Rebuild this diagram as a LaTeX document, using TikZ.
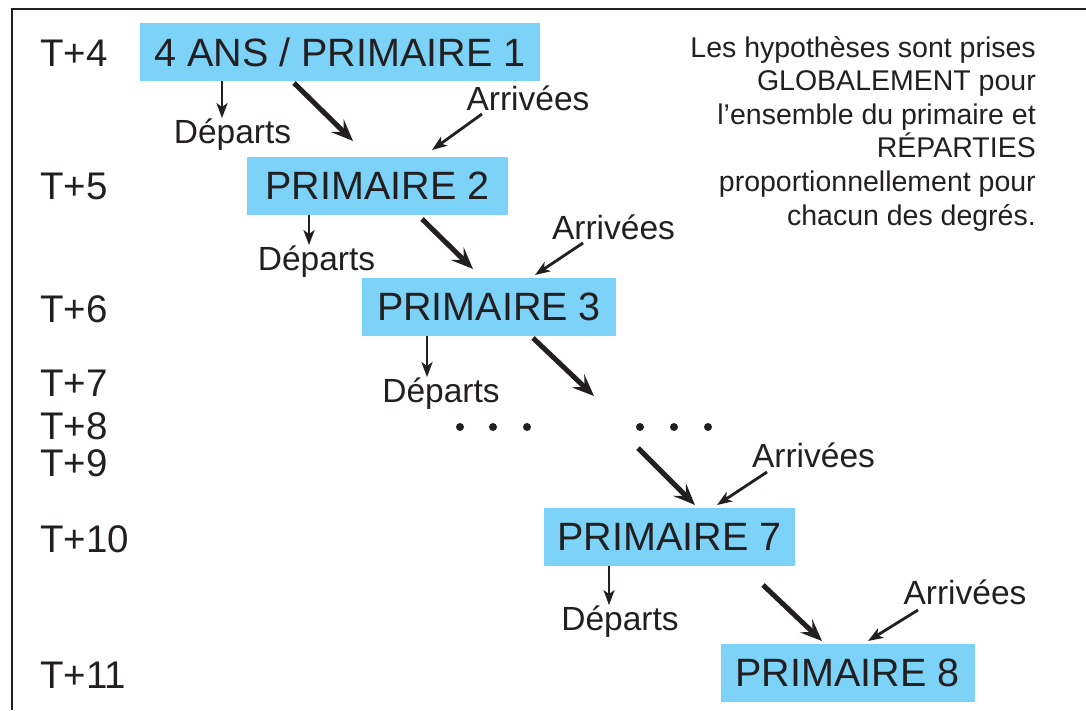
\documentclass[tikz,border=0pt]{standalone}
\usepackage{fontspec}
\setmainfont{Liberation Sans}
\usetikzlibrary{arrows.meta}

\definecolor{boxblue}{RGB}{124,211,247}
\definecolor{ink}{RGB}{35,31,32}

\begin{document}
\begin{tikzpicture}[x=1pt, y=-1pt, ink,
    level/.style={fill=boxblue, text=ink, inner sep=0pt, minimum width=254pt,
                  minimum height=58pt, font=\fontsize{39.5}{41}\selectfont},
    year/.style={anchor=base west, inner sep=0pt, font=\fontsize{38.5}{40}\selectfont},
    move/.style={anchor=base, inner sep=0pt, font=\fontsize{33.5}{35}\selectfont},
    flow/.style={line width=5pt, -{Stealth[length=22pt, width=18pt, inset=9pt]}},
    side/.style={line width=2.8pt, -{Stealth[length=15pt, width=11pt, inset=4pt]}}]
    \useasboundingbox (0,0) rectangle (1086,710);

    % Frame
    \draw [line width=2.5pt] (12,710) -- (12,9) -- (1086,9);

    % Years {T+4, ..., T+11}
    \node [year] (t4)  at (40,66)  {T+4};
    \node [year] (t5)  at (40,199) {T+5};
    \node [year] (t6)  at (40,322) {T+6};
    \node [year] (t7)  at (40,396) {T+7};
    \node [year] (t8)  at (40,439) {T+8};
    \node [year] (t9)  at (40,476) {T+9};
    \node [year] (t10) at (40,552) {T+10};
    \node [year] (t11) at (40,688) {T+11};

    % Levels
    \node [level, minimum width=400pt] (p1) at (340,52)    {4 ANS / PRIMAIRE 1};
    \node [level, minimum width=261pt] (p2) at (377.5,186) {PRIMAIRE 2};
    \node [level]                      (p3) at (489,307)   {PRIMAIRE 3};
    \node [level, minimum width=251pt] (p7) at (669.5,537) {PRIMAIRE 7};
    \node [level]                      (p8) at (847.5,673) {PRIMAIRE 8};

    % Departures and arrivals
    \node [move] (d1) at (232.5,143) {Départs};
    \node [move] (d2) at (316.5,270) {Départs};
    \node [move] (d3) at (441,402)   {Départs};
    \node [move] (d7) at (620,630)   {Départs};
    \node [move] (a2) at (528,110)   {Arrivées};
    \node [move] (a3) at (613.5,239) {Arrivées};
    \node [move] (a7) at (813.5,467) {Arrivées};
    \node [move] (a8) at (965,604)   {Arrivées};

    % Note
    \node [anchor=north east, align=right, inner sep=0pt,
           font=\fontsize{28.5}{33.6}\selectfont] (note) at (1036,36)
        {Les hypothèses sont prises\\GLOBALEMENT pour\\l’ensemble du primaire et\\RÉPARTIES\\proportionnellement pour\\chacun des degrés.};

    % Dots
    \foreach \x in {460,493,527,640,674,708}
        \fill (\x,427) circle (4pt);

    % Arrow ends
    \coordinate (p1o) at (294,83);  \coordinate (p2i) at (353,141);
    \coordinate (p2o) at (422,219); \coordinate (p3i) at (473,269);
    \coordinate (p3o) at (533,338); \coordinate (gap) at (594,396);
    \coordinate (dot) at (638,448); \coordinate (p7i) at (695,505);
    \coordinate (p7o) at (763,585); \coordinate (p8i) at (822,641);
    \coordinate (a2o) at (482,114); \coordinate (a2i) at (432,150);
    \coordinate (a3o) at (583,243); \coordinate (a3i) at (535,275);
    \coordinate (a7o) at (767,472); \coordinate (a7i) at (717,505);
    \coordinate (a8o) at (918,610); \coordinate (a8i) at (868,641);
    \coordinate (d1o) at (222,81);
    \coordinate (d2o) at (309,215);
    \coordinate (d3o) at (427,336);
    \coordinate (d7o) at (609,566);

    % Paths
    \path [flow] (p1o) edge (p2i);
    \path [flow] (p2o) edge (p3i);
    \path [flow] (p3o) edge (gap);
    \path [flow] (dot) edge (p7i);
    \path [flow] (p7o) edge (p8i);
    \path [side] (a2o) edge (a2i);
    \path [side] (a3o) edge (a3i);
    \path [side] (a7o) edge (a7i);
    \path [side] (a8o) edge (a8i);
    \path [side] (d1o) edge (d1o |- d1.north);
    \path [side] (d2o) edge (d2o |- d2.north);
    \path [side] (d3o) edge (d3o |- d3.north);
    \path [side] (d7o) edge (d7o |- d7.north);
\end{tikzpicture}
\end{document}
